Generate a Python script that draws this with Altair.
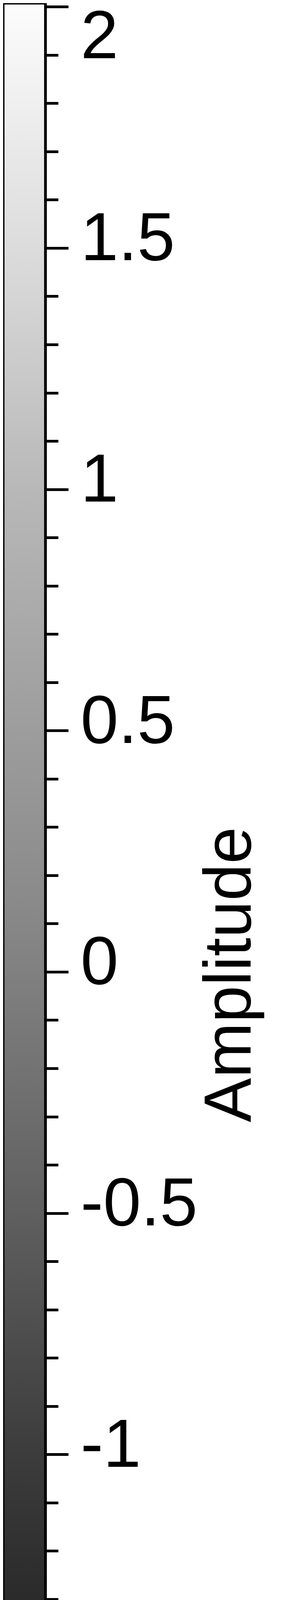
import altair as alt
import pandas as pd

# colour bar extent (amplitude units) and the axis range shown
bar_top = 2.0075
bar_bottom = -2.03
axis_min = -2.0141
axis_max = 2.0075

# tick positions every 0.1, labels on the multiples of 0.5
tick_values = [
    -2.0, -1.9, -1.8, -1.7, -1.6, -1.5, -1.4, -1.3, -1.2, -1.1,
    -1.0, -0.9, -0.8, -0.7, -0.6, -0.5, -0.4, -0.3, -0.2, -0.1,
    0.0, 0.1, 0.2, 0.3, 0.4, 0.5, 0.6, 0.7, 0.8, 0.9,
    1.0, 1.1, 1.2, 1.3, 1.4, 1.5, 1.6, 1.7, 1.8, 1.9, 2.0,
]

# grey levels at a few amplitudes
stop_values = [2.0, 1.5, 1.0, 0.15, -0.43, -1.0, -1.45, -2.0]
stop_colors = ["#fcfcfc", "#dcdcdc", "#b8b8b8", "#8a8a8a", "#646464", "#3c3c3c", "#222222", "#020202"]

span = bar_top - bar_bottom
stops = [
    alt.GradientStop(offset=(bar_top - v) / span, color=c)
    for v, c in zip(stop_values, stop_colors)
]

df = pd.DataFrame({"top": [bar_top], "bottom": [bar_bottom]})

major = "abs(datum.value * 2 - round(datum.value * 2)) < 0.001"

bar = (
    alt.Chart(df)
    .mark_rect(
        fill=alt.Gradient(gradient="linear", stops=stops, x1=0, y1=0, x2=0, y2=1),
        stroke="black",
        strokeWidth=7,
    )
    .encode(
        y=alt.Y(
            "top:Q",
            scale=alt.Scale(domain=[axis_min, axis_max], nice=False, zero=False),
            axis=alt.Axis(
                orient="right",
                values=tick_values,
                domain=False,
                grid=False,
                tickColor="black",
                tickWidth=7,
                tickSize={"condition": {"test": major, "value": 58.5}, "value": 32.5},
                labelExpr=f"({major}) ? '' + datum.value : ''",
                labelFont="Liberation Sans",
                labelFontSize=174,
                labelColor="black",
                labelAlign="left",
                labelBaseline="middle",
                labelPadding=31,
                labelOffset={
                    "condition": [
                        {"test": "datum.value == 2", "value": 79},
                        {"test": "datum.value == -2", "value": -60},
                    ],
                    "value": -21,
                },
                labelLimit=0,
                labelOverlap=False,
                labelFlush=False,
                labelBound=False,
                title="Amplitude",
                titleFont="Liberation Sans",
                titleFontSize=170,
                titleFontWeight="normal",
                titleColor="black",
                titleAngle=270,
                titleAlign="center",
                titleBaseline="alphabetic",
                titleLimit=0,
                titleX=524.5,
                titleY=2486.5,
            ),
        ),
        y2="bottom:Q",
    )
    .properties(
        width=108.5,
        height=4968,
        autosize=alt.AutoSizeParams(type="none"),
        padding={"left": 0, "top": 0, "right": 595.5, "bottom": 0},
    )
)

chart = bar.configure_view(stroke=None).configure(background="white")

chart.save("out.html", embed_options={"renderer": "svg", "actions": False})
